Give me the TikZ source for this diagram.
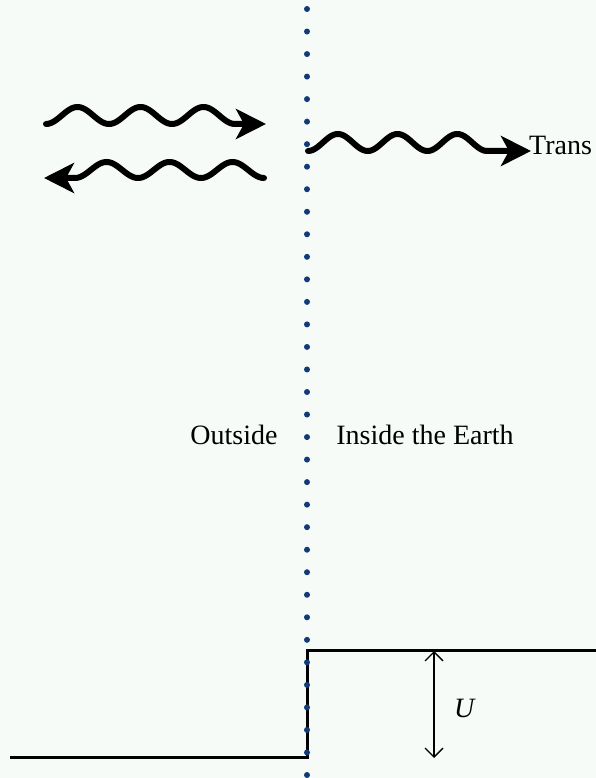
\documentclass[tikz,border=0pt]{standalone}
\usepackage{fontspec}
\setmainfont{Liberation Serif}
\usetikzlibrary{arrows.meta, positioning}
\definecolor{bgcol}{RGB}{246,251,248}
\definecolor{dotblue}{RGB}{16,58,120}

\begin{document}
\begin{tikzpicture}[x=1pt, y=1pt,
  wave/.style={line width=6pt, line cap=round, -{Stealth[length=30pt, width=30pt, inset=8pt]}},
  lbl/.style={font=\fontsize{28}{32}\selectfont, inner sep=0pt, anchor=base}]
  % background and frame
  \fill[bgcol] (0,0) rectangle (596,778);
  \useasboundingbox (0,0) rectangle (596,778);
  % incoming wave
  \draw[wave] plot[domain=0:3, samples=120, smooth] ({46+63*\x}, {662.5-8.5*cos(360*\x)}) -- (266,654);
  % reflected wave
  \draw[wave] plot[domain=0:3, samples=120, smooth] ({264-63*\x}, {608-8*cos(360*\x)}) -- (44,600);
  % transmitted wave
  \draw[wave] plot[domain=0:3, samples=120, smooth] ({308+59.7*\x}, {635.5-8.5*cos(360*\x)}) -- (531,627);
  \node[lbl, anchor=base west] (trans) at (529,623) {Trans};
  % potential step
  \draw[line width=3pt] (10,20) -- (307,20) -- (307,127) -- (596,127);
  \coordinate (utop) at (434,127);
  \coordinate (ubot) at (434,20);
  \draw[line width=1.4pt, {Straight Barb[length=9pt, width=18pt]}-{Straight Barb[length=9pt, width=18pt]}] (utop) -- (ubot);
  \node[lbl] (ulabel) at (465,60) {\textit{U}};
  % labels on both sides
  \node[lbl] (outside) at (234,333) {Outside};
  \node[lbl] (inside) at (425,333) {Inside the Earth};
  % boundary dots
  \foreach \i in {0,...,34} \fill[dotblue] (307,{769-22.53*\i}) circle (3);
\end{tikzpicture}
\end{document}
